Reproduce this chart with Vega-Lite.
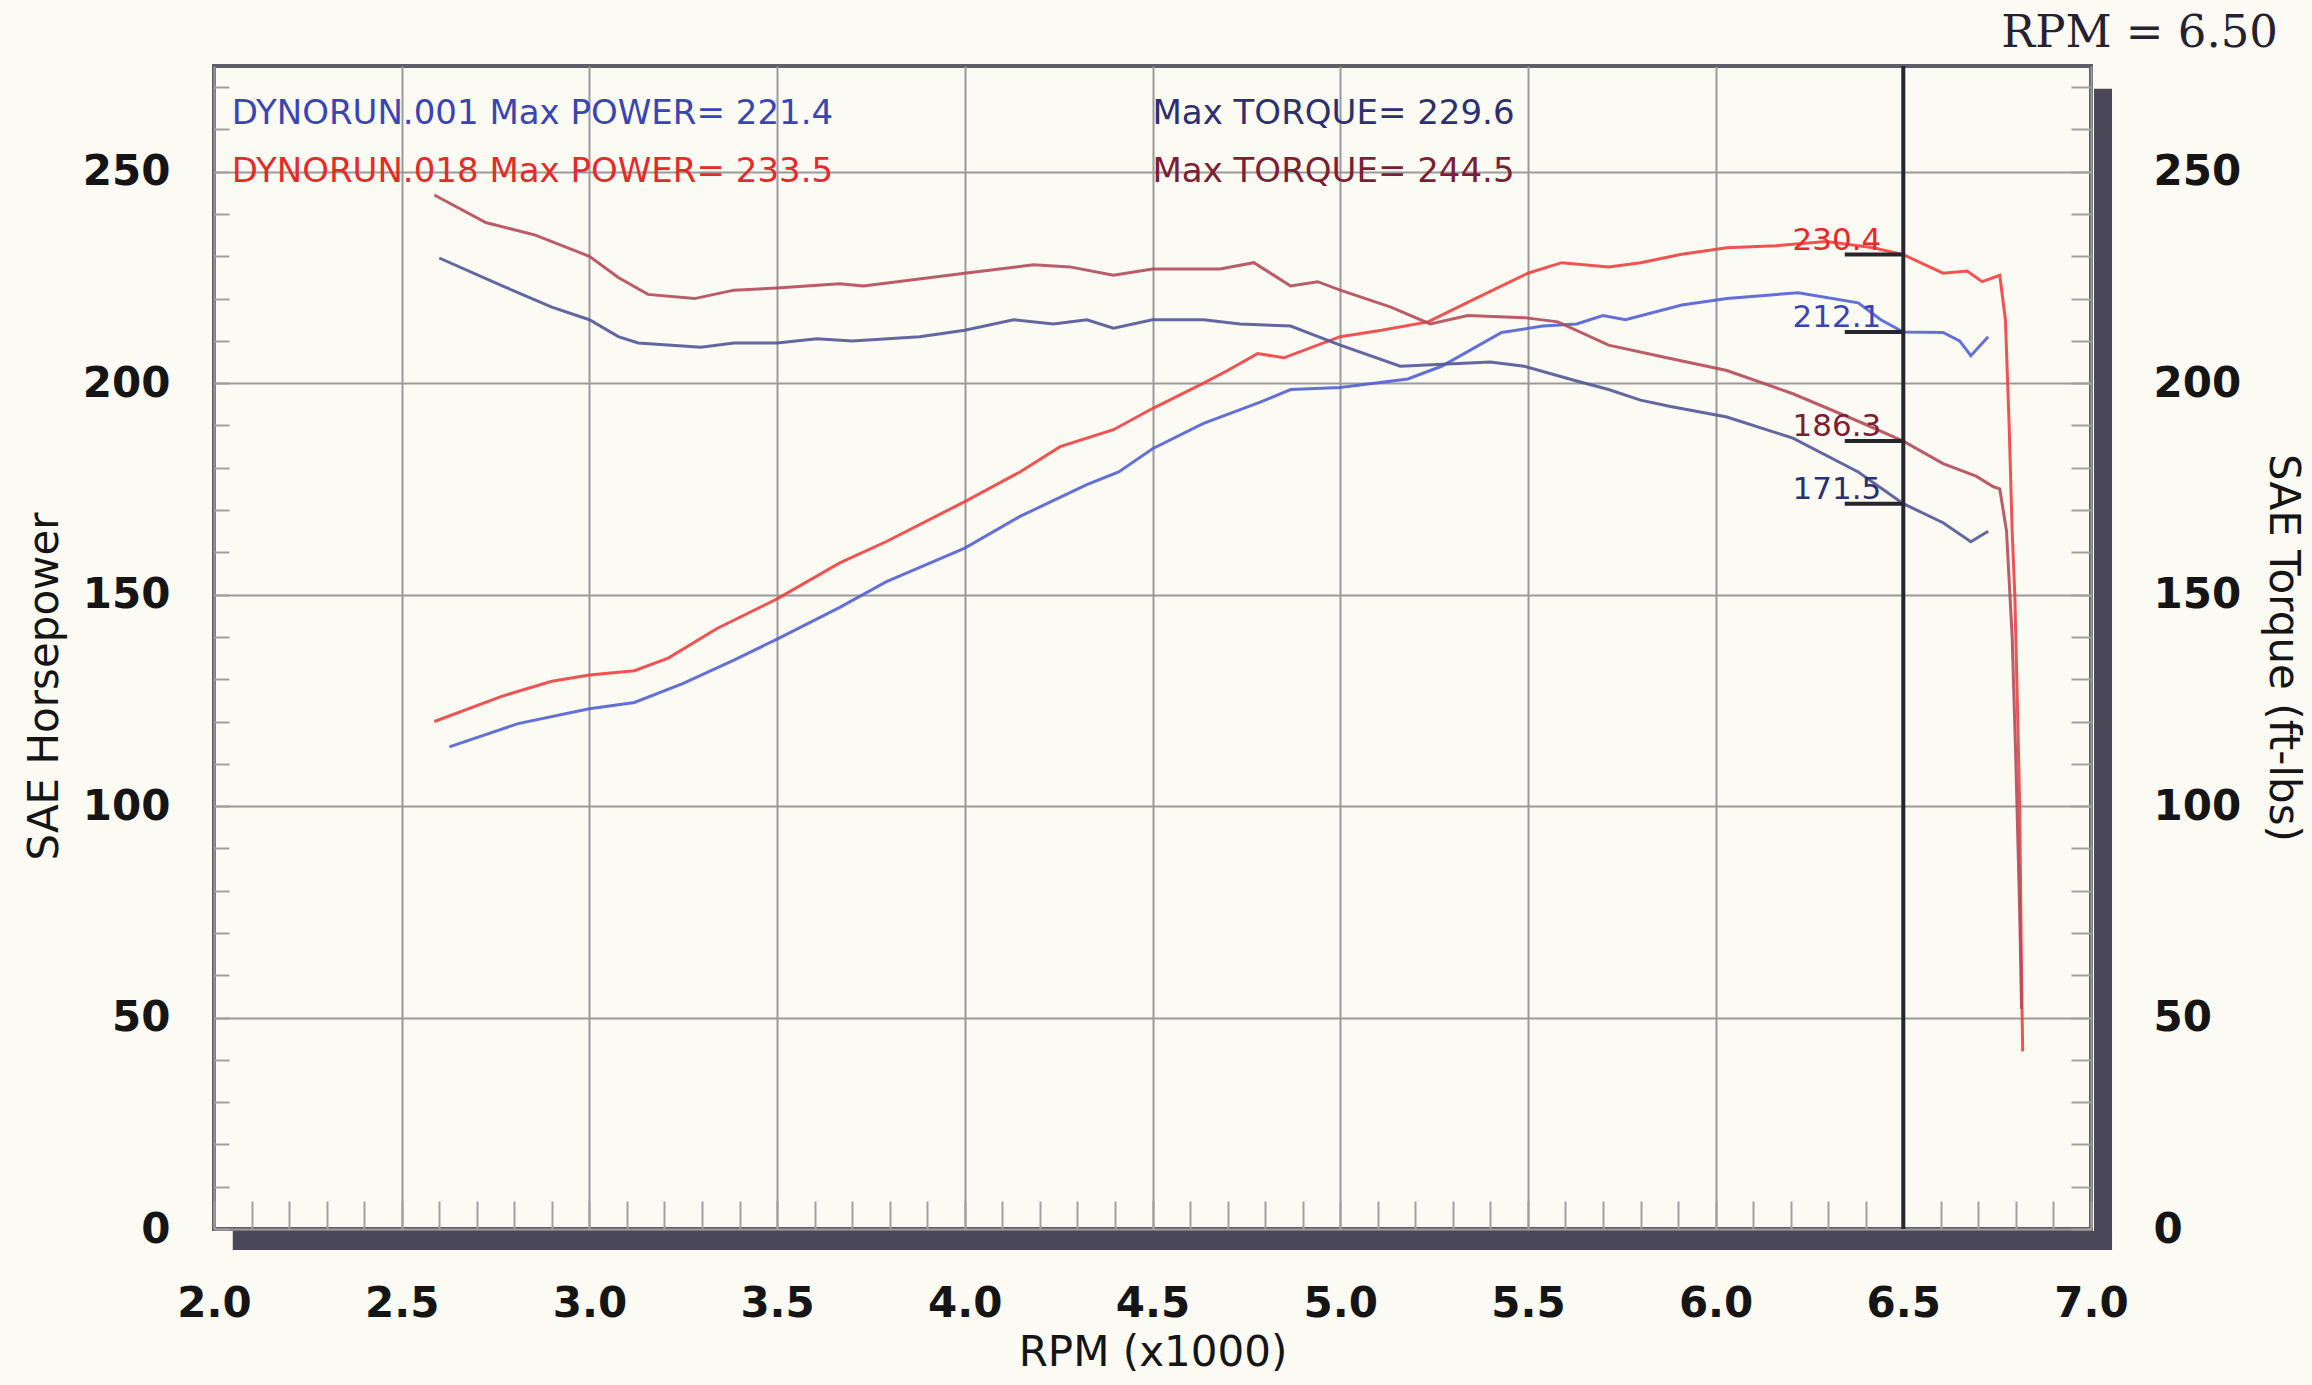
{
  "$schema": "https://vega.github.io/schema/vega-lite/v6.json",
  "width": 1877,
  "height": 1163,
  "autosize": "none",
  "padding": {"left": 214, "top": 66, "right": 221, "bottom": 156},
  "background": "#fbfbf3",
  "config": {"view": {"stroke": "#5e5e66", "strokeWidth": 4}, "font": "DejaVu Sans"},
  "datasets": {
    "curves": [
      {"series": "001 Power", "rpm": 2.627, "value": 114},
      {"series": "001 Power", "rpm": 2.81, "value": 119.5},
      {"series": "001 Power", "rpm": 3.0, "value": 123},
      {"series": "001 Power", "rpm": 3.12, "value": 124.5},
      {"series": "001 Power", "rpm": 3.25, "value": 129},
      {"series": "001 Power", "rpm": 3.385, "value": 134.5},
      {"series": "001 Power", "rpm": 3.5, "value": 139.5},
      {"series": "001 Power", "rpm": 3.667, "value": 147},
      {"series": "001 Power", "rpm": 3.79, "value": 153},
      {"series": "001 Power", "rpm": 4.0, "value": 161},
      {"series": "001 Power", "rpm": 4.147, "value": 168.5},
      {"series": "001 Power", "rpm": 4.325, "value": 176},
      {"series": "001 Power", "rpm": 4.41, "value": 179},
      {"series": "001 Power", "rpm": 4.5, "value": 184.5},
      {"series": "001 Power", "rpm": 4.636, "value": 190.5},
      {"series": "001 Power", "rpm": 4.787, "value": 195.5},
      {"series": "001 Power", "rpm": 4.868, "value": 198.5},
      {"series": "001 Power", "rpm": 5.0, "value": 199},
      {"series": "001 Power", "rpm": 5.18, "value": 201},
      {"series": "001 Power", "rpm": 5.27, "value": 204},
      {"series": "001 Power", "rpm": 5.43, "value": 212},
      {"series": "001 Power", "rpm": 5.54, "value": 213.5},
      {"series": "001 Power", "rpm": 5.63, "value": 214},
      {"series": "001 Power", "rpm": 5.7, "value": 216},
      {"series": "001 Power", "rpm": 5.76, "value": 215},
      {"series": "001 Power", "rpm": 5.91, "value": 218.5},
      {"series": "001 Power", "rpm": 6.03, "value": 220},
      {"series": "001 Power", "rpm": 6.22, "value": 221.4},
      {"series": "001 Power", "rpm": 6.38, "value": 219},
      {"series": "001 Power", "rpm": 6.44, "value": 215},
      {"series": "001 Power", "rpm": 6.5, "value": 212.1},
      {"series": "001 Power", "rpm": 6.606, "value": 212},
      {"series": "001 Power", "rpm": 6.65, "value": 210},
      {"series": "001 Power", "rpm": 6.68, "value": 206.5},
      {"series": "001 Power", "rpm": 6.726, "value": 211},
      {"series": "018 Power", "rpm": 2.587, "value": 120},
      {"series": "018 Power", "rpm": 2.768, "value": 126},
      {"series": "018 Power", "rpm": 2.9, "value": 129.5},
      {"series": "018 Power", "rpm": 3.0, "value": 131},
      {"series": "018 Power", "rpm": 3.12, "value": 132},
      {"series": "018 Power", "rpm": 3.21, "value": 135},
      {"series": "018 Power", "rpm": 3.34, "value": 142},
      {"series": "018 Power", "rpm": 3.5, "value": 149},
      {"series": "018 Power", "rpm": 3.667, "value": 157.5},
      {"series": "018 Power", "rpm": 3.79, "value": 162.5},
      {"series": "018 Power", "rpm": 4.0, "value": 172},
      {"series": "018 Power", "rpm": 4.147, "value": 179},
      {"series": "018 Power", "rpm": 4.254, "value": 185},
      {"series": "018 Power", "rpm": 4.396, "value": 189},
      {"series": "018 Power", "rpm": 4.5, "value": 194},
      {"series": "018 Power", "rpm": 4.636, "value": 200},
      {"series": "018 Power", "rpm": 4.7, "value": 203},
      {"series": "018 Power", "rpm": 4.78, "value": 207},
      {"series": "018 Power", "rpm": 4.85, "value": 206},
      {"series": "018 Power", "rpm": 5.0, "value": 211},
      {"series": "018 Power", "rpm": 5.11, "value": 212.5},
      {"series": "018 Power", "rpm": 5.234, "value": 214.5},
      {"series": "018 Power", "rpm": 5.36, "value": 220},
      {"series": "018 Power", "rpm": 5.5, "value": 226},
      {"series": "018 Power", "rpm": 5.59, "value": 228.5},
      {"series": "018 Power", "rpm": 5.715, "value": 227.5},
      {"series": "018 Power", "rpm": 5.8, "value": 228.5},
      {"series": "018 Power", "rpm": 5.91, "value": 230.5},
      {"series": "018 Power", "rpm": 6.03, "value": 232},
      {"series": "018 Power", "rpm": 6.16, "value": 232.5},
      {"series": "018 Power", "rpm": 6.295, "value": 233.5},
      {"series": "018 Power", "rpm": 6.42, "value": 232},
      {"series": "018 Power", "rpm": 6.5, "value": 230.4},
      {"series": "018 Power", "rpm": 6.606, "value": 226},
      {"series": "018 Power", "rpm": 6.67, "value": 226.5},
      {"series": "018 Power", "rpm": 6.71, "value": 224},
      {"series": "018 Power", "rpm": 6.757, "value": 225.5},
      {"series": "018 Power", "rpm": 6.772, "value": 215},
      {"series": "018 Power", "rpm": 6.782, "value": 190},
      {"series": "018 Power", "rpm": 6.79, "value": 165},
      {"series": "018 Power", "rpm": 6.797, "value": 150},
      {"series": "018 Power", "rpm": 6.805, "value": 120},
      {"series": "018 Power", "rpm": 6.81, "value": 100},
      {"series": "018 Power", "rpm": 6.815, "value": 60},
      {"series": "018 Power", "rpm": 6.818, "value": 42},
      {"series": "001 Torque", "rpm": 2.6, "value": 229.6},
      {"series": "001 Torque", "rpm": 2.768, "value": 223},
      {"series": "001 Torque", "rpm": 2.9, "value": 218},
      {"series": "001 Torque", "rpm": 3.0, "value": 215},
      {"series": "001 Torque", "rpm": 3.077, "value": 211},
      {"series": "001 Torque", "rpm": 3.13, "value": 209.5},
      {"series": "001 Torque", "rpm": 3.297, "value": 208.5},
      {"series": "001 Torque", "rpm": 3.385, "value": 209.5},
      {"series": "001 Torque", "rpm": 3.5, "value": 209.5},
      {"series": "001 Torque", "rpm": 3.606, "value": 210.5},
      {"series": "001 Torque", "rpm": 3.7, "value": 210},
      {"series": "001 Torque", "rpm": 3.88, "value": 211},
      {"series": "001 Torque", "rpm": 4.0, "value": 212.5},
      {"series": "001 Torque", "rpm": 4.13, "value": 215},
      {"series": "001 Torque", "rpm": 4.236, "value": 214},
      {"series": "001 Torque", "rpm": 4.325, "value": 215},
      {"series": "001 Torque", "rpm": 4.396, "value": 213},
      {"series": "001 Torque", "rpm": 4.5, "value": 215},
      {"series": "001 Torque", "rpm": 4.636, "value": 215},
      {"series": "001 Torque", "rpm": 4.733, "value": 214},
      {"series": "001 Torque", "rpm": 4.868, "value": 213.5},
      {"series": "001 Torque", "rpm": 5.0, "value": 209},
      {"series": "001 Torque", "rpm": 5.16, "value": 204},
      {"series": "001 Torque", "rpm": 5.4, "value": 205},
      {"series": "001 Torque", "rpm": 5.49, "value": 204},
      {"series": "001 Torque", "rpm": 5.63, "value": 200.5},
      {"series": "001 Torque", "rpm": 5.715, "value": 198.5},
      {"series": "001 Torque", "rpm": 5.8, "value": 196},
      {"series": "001 Torque", "rpm": 5.88, "value": 194.5},
      {"series": "001 Torque", "rpm": 6.03, "value": 192},
      {"series": "001 Torque", "rpm": 6.206, "value": 187},
      {"series": "001 Torque", "rpm": 6.38, "value": 179},
      {"series": "001 Torque", "rpm": 6.5, "value": 171.5},
      {"series": "001 Torque", "rpm": 6.606, "value": 167},
      {"series": "001 Torque", "rpm": 6.68, "value": 162.5},
      {"series": "001 Torque", "rpm": 6.726, "value": 165},
      {"series": "018 Torque", "rpm": 2.587, "value": 244.5},
      {"series": "018 Torque", "rpm": 2.724, "value": 238},
      {"series": "018 Torque", "rpm": 2.856, "value": 235},
      {"series": "018 Torque", "rpm": 3.0, "value": 230},
      {"series": "018 Torque", "rpm": 3.077, "value": 225},
      {"series": "018 Torque", "rpm": 3.156, "value": 221},
      {"series": "018 Torque", "rpm": 3.28, "value": 220},
      {"series": "018 Torque", "rpm": 3.385, "value": 222},
      {"series": "018 Torque", "rpm": 3.5, "value": 222.5},
      {"series": "018 Torque", "rpm": 3.667, "value": 223.5},
      {"series": "018 Torque", "rpm": 3.73, "value": 223},
      {"series": "018 Torque", "rpm": 4.0, "value": 226},
      {"series": "018 Torque", "rpm": 4.183, "value": 228},
      {"series": "018 Torque", "rpm": 4.28, "value": 227.5},
      {"series": "018 Torque", "rpm": 4.396, "value": 225.5},
      {"series": "018 Torque", "rpm": 4.5, "value": 227},
      {"series": "018 Torque", "rpm": 4.68, "value": 227},
      {"series": "018 Torque", "rpm": 4.77, "value": 228.5},
      {"series": "018 Torque", "rpm": 4.868, "value": 223},
      {"series": "018 Torque", "rpm": 4.94, "value": 224},
      {"series": "018 Torque", "rpm": 5.0, "value": 222},
      {"series": "018 Torque", "rpm": 5.135, "value": 218},
      {"series": "018 Torque", "rpm": 5.24, "value": 214},
      {"series": "018 Torque", "rpm": 5.34, "value": 216},
      {"series": "018 Torque", "rpm": 5.49, "value": 215.5},
      {"series": "018 Torque", "rpm": 5.58, "value": 214.5},
      {"series": "018 Torque", "rpm": 5.715, "value": 209},
      {"series": "018 Torque", "rpm": 5.87, "value": 206},
      {"series": "018 Torque", "rpm": 6.03, "value": 203},
      {"series": "018 Torque", "rpm": 6.206, "value": 197.5},
      {"series": "018 Torque", "rpm": 6.38, "value": 191},
      {"series": "018 Torque", "rpm": 6.5, "value": 186.3},
      {"series": "018 Torque", "rpm": 6.606, "value": 181},
      {"series": "018 Torque", "rpm": 6.694, "value": 178},
      {"series": "018 Torque", "rpm": 6.74, "value": 175.5},
      {"series": "018 Torque", "rpm": 6.757, "value": 175},
      {"series": "018 Torque", "rpm": 6.775, "value": 165},
      {"series": "018 Torque", "rpm": 6.79, "value": 140},
      {"series": "018 Torque", "rpm": 6.8, "value": 110},
      {"series": "018 Torque", "rpm": 6.81, "value": 75},
      {"series": "018 Torque", "rpm": 6.815, "value": 52}
    ],
    "cursor": [
      {"series": "018 Power text", "rpm0": 6.344, "rpm1": 6.5, "value": 230.4, "label": "230.4"},
      {"series": "001 Power text", "rpm0": 6.344, "rpm1": 6.5, "value": 212.1, "label": "212.1"},
      {"series": "018 Torque text", "rpm0": 6.344, "rpm1": 6.5, "value": 186.3, "label": "186.3"},
      {"series": "001 Torque text", "rpm0": 6.344, "rpm1": 6.5, "value": 171.5, "label": "171.5"}
    ],
    "legend": [
      {"series": "001 Power text", "rpm": 2.047, "value": 263.6, "label": "DYNORUN.001  Max POWER= 221.4"},
      {"series": "001 Torque text", "rpm": 4.5, "value": 263.6, "label": "Max TORQUE= 229.6"},
      {"series": "018 Power text", "rpm": 2.047, "value": 250, "label": "DYNORUN.018 Max POWER= 233.5"},
      {"series": "018 Torque text", "rpm": 4.5, "value": 250, "label": "Max TORQUE= 244.5"}
    ],
    "readout": [
      {"rpm": 7.0, "label": "RPM = 6.50"}
    ]
  },
  "resolve": {"axis": {"y": "independent"}},
  "layer": [
    {
      "data": {"name": "curves"},
      "mark": {"type": "line", "strokeWidth": 3, "opacity": 0.9},
      "encoding": {
        "x": {"field": "rpm", "type": "quantitative",
          "scale": {"domain": [2, 7], "nice": false, "zero": false},
          "axis": {
            "title": "RPM (x1000)",
            "tickCount": 200,
            "values": [2.0,2.1,2.2,2.3,2.4,2.5,2.6,2.7,2.8,2.9,3.0,3.1,3.2,3.3,3.4,3.5,3.6,3.7,3.8,3.9,4.0,4.1,4.2,4.3,4.4,4.5,4.6,4.7,4.8,4.9,5.0,5.1,5.2,5.3,5.4,5.5,5.6,5.7,5.8,5.9,6.0,6.1,6.2,6.3,6.4,6.5,6.6,6.7,6.8,6.9,7.0],
            "labelExpr": "abs(datum.value*2 - round(datum.value*2)) < 0.001 ? format(datum.value, '.1f') : ''",
            "grid": true, "gridColor": "#9a9a9a", "gridWidth": 2,
            "gridOpacity": {"condition": {"test": "abs(datum.value*2 - round(datum.value*2)) < 0.001", "value": 1}, "value": 0},
            "tickSize": -28, "tickColor": "#a0a0a0", "tickWidth": 2,
            "domain": false,
            "labelFont": "DejaVu Sans", "labelFontSize": 42, "labelFontWeight": "bold", "labelColor": "#151515", "labelPadding": 82,
            "labelOverlap": false, "labelFlush": false,
            "titleFont": "DejaVu Sans", "titleFontSize": 42, "titleFontWeight": "normal", "titleColor": "#151515", "titlePadding": 8
          }
        },
        "y": {"field": "value", "type": "quantitative",
          "scale": {"domain": [0, 275], "nice": false, "zero": true},
          "axis": {
            "orient": "left",
            "title": "SAE Horsepower",
            "titleY": 620,
            "tickCount": 200,
            "values": [0,10,20,30,40,50,60,70,80,90,100,110,120,130,140,150,160,170,180,190,200,210,220,230,240,250,260,270],
            "labelExpr": "datum.value % 50 === 0 ? datum.value : ''",
            "grid": true, "gridColor": "#9a9a9a", "gridWidth": 2,
            "gridOpacity": {"condition": {"test": "datum.value % 50 === 0", "value": 1}, "value": 0},
            "tickSize": -15, "tickColor": "#a0a0a0", "tickWidth": 2,
            "domain": false,
            "labelFont": "DejaVu Sans", "labelFontSize": 42, "labelFontWeight": "bold", "labelColor": "#151515", "labelPadding": 59,
            "labelOverlap": false, "labelFlush": false,
            "titleFont": "DejaVu Sans", "titleFontSize": 42, "titleFontWeight": "normal", "titleColor": "#151515", "titlePadding": 16
          }
        },
        "color": {"field": "series", "type": "nominal", "legend": null,
          "scale": {
            "domain": ["001 Power", "018 Power", "001 Torque", "018 Torque", "001 Power text", "018 Power text", "001 Torque text", "018 Torque text"],
            "range": ["#5260d4", "#f04040", "#515796", "#b44a5a", "#3a44b4", "#e62a2a", "#2c3070", "#7c1e34"]
          }
        },
        "detail": {"field": "series"}
      }
    },
    {
      "data": {"name": "cursor"},
      "mark": {"type": "rule", "strokeWidth": 4, "color": "#26262e"},
      "encoding": {
        "x": {"field": "rpm0", "type": "quantitative"},
        "x2": {"field": "rpm1"},
        "y": {"field": "value", "type": "quantitative",
          "axis": {
            "orient": "right",
            "title": "SAE Torque (ft-lbs)",
            "tickCount": 200,
            "values": [0,10,20,30,40,50,60,70,80,90,100,110,120,130,140,150,160,170,180,190,200,210,220,230,240,250,260,270],
            "labelExpr": "datum.value % 50 === 0 ? datum.value : ''",
            "grid": false,
            "tickSize": -20, "tickColor": "#a0a0a0", "tickWidth": 2,
            "domain": false,
            "labelFont": "DejaVu Sans", "labelFontSize": 42, "labelFontWeight": "bold", "labelColor": "#151515", "labelPadding": 82,
            "labelOverlap": false, "labelFlush": false,
            "titleFont": "DejaVu Sans", "titleFontSize": 42, "titleFontWeight": "normal", "titleColor": "#151515", "titlePadding": 20
          }
        }
      }
    },
    {
      "data": {"values": [{}]},
      "mark": {"type": "rule", "strokeWidth": 4, "color": "#26262e"},
      "encoding": {
        "x": {"datum": 6.5, "type": "quantitative"}
      }
    },
    {
      "data": {"values": [{}]},
      "mark": {"type": "rule", "strokeWidth": 18, "color": "#4a4858"},
      "encoding": {
        "x": {"datum": 7.032, "type": "quantitative"},
        "y": {"datum": -4.96, "type": "quantitative", "axis": null},
        "y2": {"datum": 269.6}
      }
    },
    {
      "data": {"values": [{}]},
      "mark": {"type": "rule", "strokeWidth": 19, "color": "#4a4858"},
      "encoding": {
        "x": {"datum": 2.05, "type": "quantitative"},
        "x2": {"datum": 7.056},
        "y": {"datum": -2.7, "type": "quantitative", "axis": null}
      }
    },
    {
      "data": {"name": "cursor"},
      "mark": {"type": "text", "align": "right", "baseline": "alphabetic", "dx": -22, "dy": -5, "font": "DejaVu Sans", "fontSize": 31},
      "encoding": {
        "x": {"field": "rpm1", "type": "quantitative"},
        "y": {"field": "value", "type": "quantitative", "axis": null},
        "text": {"field": "label"},
        "color": {"field": "series", "type": "nominal", "legend": null}
      }
    },
    {
      "data": {"name": "legend"},
      "mark": {"type": "text", "align": "left", "baseline": "middle", "font": "DejaVu Sans", "fontSize": 34},
      "encoding": {
        "x": {"field": "rpm", "type": "quantitative"},
        "y": {"field": "value", "type": "quantitative", "axis": null},
        "text": {"field": "label"},
        "color": {"field": "series", "type": "nominal", "legend": null}
      }
    },
    {
      "data": {"name": "readout"},
      "mark": {"type": "text", "align": "right", "baseline": "alphabetic", "dx": 187, "dy": -19, "font": "DejaVu Serif", "fontSize": 45, "color": "#262030"},
      "encoding": {
        "x": {"field": "rpm", "type": "quantitative"},
        "y": {"datum": 275, "type": "quantitative", "axis": null},
        "text": {"field": "label"}
      }
    }
  ]
}
